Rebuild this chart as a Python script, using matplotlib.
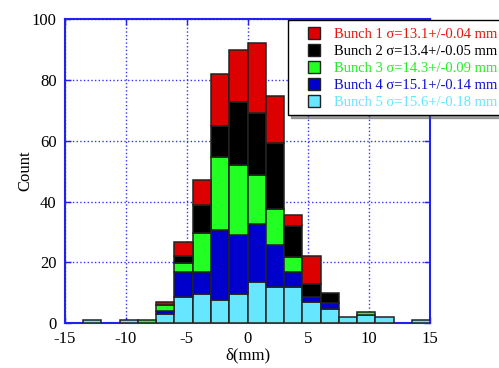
import numpy as np
import matplotlib
matplotlib.use("Agg")
import matplotlib.pyplot as plt
from matplotlib.patches import Rectangle
from matplotlib.legend_handler import HandlerPatch

plt.rcParams['font.family'] = ['Liberation Serif', 'DejaVu Serif']
plt.rcParams['axes.unicode_minus'] = False

# bin edges of the delta histogram (mm)
edges = np.arange(-15, 15.01, 1.5)

# counts per bin for each bunch
bunch5 = [0, 1, 0, 1, 0, 3, 8.5, 9.6, 7.7, 9.6, 13.4, 11.8, 11.8, 6.8, 4.7, 1.9, 2.6, 2, 0, 1]
bunch4 = [0, 0, 0, 0, 0, 1, 8.4, 7.2, 23, 19.5, 19.3, 14, 5, 1.7, 1.8, 0, 0, 0, 0, 0]
bunch3 = [0, 0, 0, 0, 1, 1.8, 2.9, 12.9, 24, 22.8, 16, 11.7, 4.9, 0, 0, 0, 1, 0, 0, 0]
bunch2 = [0, 0, 0, 0, 0, 0, 2.2, 9, 10.3, 21, 20.3, 21.7, 10.3, 4.4, 3.5, 0, 0, 0, 0, 0]
bunch1 = [0, 0, 0, 0, 0, 1.2, 4.8, 8.3, 17, 17, 23, 15.6, 3.6, 9.1, 0, 0, 0, 0, 0, 0]

labels = ["Bunch 1 σ=13.1+/-0.04 mm",
          "Bunch 2 σ=13.4+/-0.05 mm",
          "Bunch 3 σ=14.3+/-0.09 mm",
          "Bunch 4 σ=15.1+/-0.14 mm",
          "Bunch 5 σ=15.6+/-0.18 mm"]
colors = ['#dd0000', '#000000', '#22ff22', '#0000cc', '#66e6ff']
text_colors = ['#ee1111', '#000000', '#22ee22', '#1010cc', '#66e6ff']

fig = plt.figure(figsize=(4.99, 3.68), dpi=100)
ax = fig.add_axes([0.130, 0.122, 0.732, 0.826])

centers = (edges[:-1] + edges[1:]) / 2
width = edges[1] - edges[0]

# stack from bunch 5 at the bottom up to bunch 1 on top
stack = [bunch5, bunch4, bunch3, bunch2, bunch1]
bottom = np.zeros(len(centers))
for vals, c in zip(stack, colors[::-1]):
    vals = np.array(vals, dtype=float)
    mask = vals > 0
    ax.bar(centers[mask], vals[mask], width=width, bottom=bottom[mask],
           color=c, edgecolor='#222222', linewidth=1.1, zorder=3)
    bottom += vals

ax.set_xlim(-15, 15)
ax.set_ylim(0, 100)
ax.set_xticks([-15, -10, -5, 0, 5, 10, 15])
ax.set_yticks([0, 20, 40, 60, 80, 100])
ax.grid(True, color='#3333ff', linestyle=':', linewidth=1.0, zorder=0)
ax.set_axisbelow(True)
for s in ax.spines.values():
    s.set_color('#2222ee')
    s.set_linewidth(1.5)
ax.tick_params(direction='in', colors='#2222ee', length=4, width=1,
               top=True, right=True, labelsize=12, labelcolor='black', pad=6)

ax.set_xlabel("δ(mm)", fontsize=12, labelpad=0)
ax.set_ylabel("Count", fontsize=12, labelpad=-1)


# square legend marker sitting at the right end of the handle box
def square(legend, orig_handle, xdescent, ydescent, width, height, fontsize):
    s = 8.6
    return Rectangle((-xdescent + width - s, -ydescent + (height - s) / 2), s, s)


proxies = [Rectangle((0, 0), 1, 1, facecolor=c, edgecolor='#222222', linewidth=1.0)
           for c in colors]
leg = ax.legend(proxies, labels,
                loc='upper left', bbox_to_anchor=(288 / 499, 1 - 20 / 368),
                bbox_transform=fig.transFigure, fontsize=10.5,
                frameon=True, fancybox=False, shadow=True,
                handler_map={Rectangle: HandlerPatch(patch_func=square)},
                handlelength=1.75, handleheight=0.9, handletextpad=0.95,
                labelspacing=0.2, borderpad=0.45, borderaxespad=0)
leg.get_frame().set_edgecolor('black')
leg.get_frame().set_linewidth(1.0)
for t, c in zip(leg.get_texts(), text_colors):
    t.set_color(c)

fig.savefig("out.png", dpi=100)
